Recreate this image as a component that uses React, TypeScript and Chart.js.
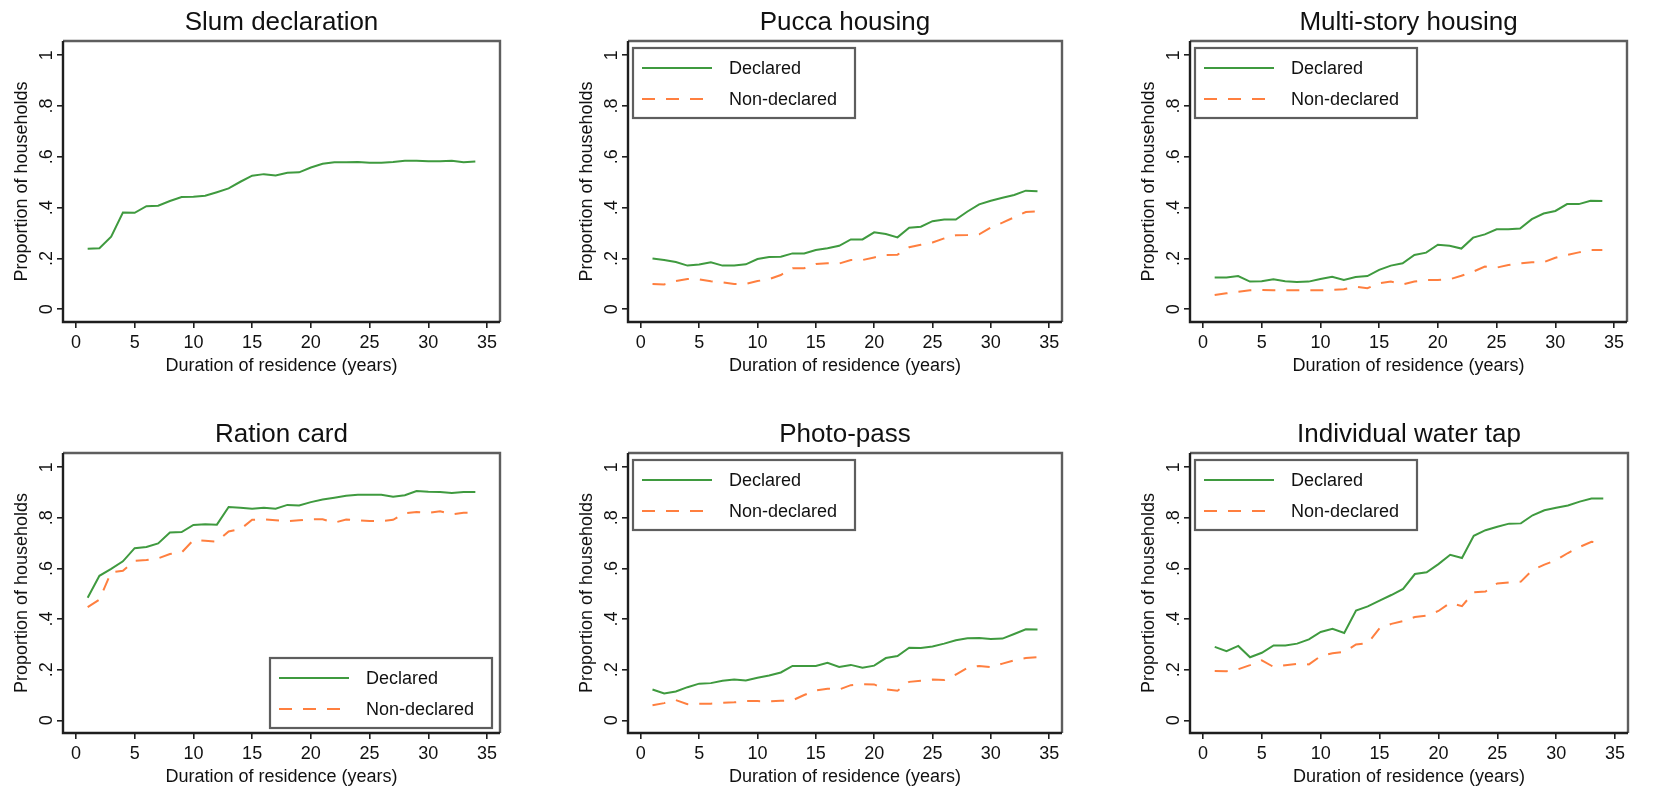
import React, { useEffect, useRef } from "react";
import { Chart, registerables } from "chart.js";

Chart.register(...registerables);

// ---------- DATA ----------
const years = [1, 2, 3, 4, 5, 6, 7, 8, 9, 10, 11, 12, 13, 14, 15, 16, 17, 18, 19, 20, 21, 22, 23, 24, 25, 26, 27, 28, 29, 30, 31, 32, 33, 34];

const xTickValues = [0, 5, 10, 15, 20, 25, 30, 35];
const yTickValues = [0, 0.2, 0.4, 0.6, 0.8, 1];
const yTickLabels = ["0", ".2", ".4", ".6", ".8", "1"];

const slumDeclared = [0.238, 0.24, 0.286, 0.381, 0.38, 0.406, 0.408, 0.426, 0.442, 0.443, 0.447, 0.461, 0.476, 0.502, 0.526, 0.532, 0.527, 0.537, 0.539, 0.558, 0.573, 0.579, 0.579, 0.58, 0.577, 0.577, 0.58, 0.585, 0.585, 0.583, 0.583, 0.585, 0.579, 0.582];

const puccaDeclared = [0.2, 0.194, 0.186, 0.172, 0.176, 0.185, 0.172, 0.172, 0.177, 0.198, 0.206, 0.207, 0.22, 0.22, 0.233, 0.24, 0.25, 0.275, 0.275, 0.303, 0.296, 0.283, 0.321, 0.325, 0.347, 0.353, 0.353, 0.385, 0.413, 0.427, 0.439, 0.45, 0.467, 0.465];
const puccaNonDeclared = [0.1, 0.098, 0.111, 0.119, 0.118, 0.11, 0.106, 0.1, 0.1, 0.111, 0.119, 0.135, 0.162, 0.162, 0.178, 0.181, 0.18, 0.194, 0.194, 0.204, 0.214, 0.215, 0.244, 0.254, 0.263, 0.279, 0.291, 0.292, 0.295, 0.322, 0.341, 0.362, 0.383, 0.385];

const multiDeclared = [0.125, 0.125, 0.131, 0.109, 0.11, 0.118, 0.11, 0.107, 0.109, 0.119, 0.128, 0.115, 0.127, 0.131, 0.155, 0.172, 0.181, 0.214, 0.223, 0.254, 0.25, 0.239, 0.282, 0.295, 0.315, 0.315, 0.318, 0.355, 0.377, 0.387, 0.414, 0.414, 0.427, 0.426];
const multiNonDeclared = [0.056, 0.063, 0.069, 0.075, 0.076, 0.075, 0.075, 0.075, 0.075, 0.075, 0.076, 0.079, 0.089, 0.083, 0.102, 0.109, 0.098, 0.109, 0.115, 0.115, 0.118, 0.132, 0.148, 0.168, 0.164, 0.174, 0.181, 0.185, 0.185, 0.203, 0.214, 0.224, 0.233, 0.233];

const rationDeclared = [0.484, 0.571, 0.598, 0.628, 0.68, 0.685, 0.699, 0.742, 0.744, 0.772, 0.775, 0.773, 0.843, 0.84, 0.836, 0.84, 0.836, 0.851, 0.849, 0.862, 0.872, 0.879, 0.887, 0.891, 0.891, 0.891, 0.883, 0.889, 0.906, 0.903, 0.902, 0.898, 0.902, 0.902];
const rationNonDeclared = [0.447, 0.477, 0.585, 0.591, 0.63, 0.633, 0.64, 0.657, 0.663, 0.712, 0.709, 0.706, 0.746, 0.755, 0.792, 0.794, 0.79, 0.787, 0.79, 0.794, 0.794, 0.781, 0.793, 0.79, 0.787, 0.787, 0.792, 0.818, 0.823, 0.82, 0.826, 0.814, 0.82, 0.82];

const photoDeclared = [0.122, 0.106, 0.114, 0.131, 0.145, 0.147, 0.156, 0.161, 0.157, 0.168, 0.177, 0.189, 0.215, 0.215, 0.215, 0.227, 0.211, 0.219, 0.208, 0.216, 0.246, 0.254, 0.287, 0.286, 0.292, 0.303, 0.316, 0.324, 0.325, 0.321, 0.323, 0.341, 0.36, 0.359];
const photoNonDeclared = [0.06, 0.068, 0.08, 0.064, 0.066, 0.066, 0.069, 0.071, 0.076, 0.076, 0.075, 0.077, 0.079, 0.1, 0.118, 0.125, 0.122, 0.139, 0.143, 0.142, 0.122, 0.117, 0.152, 0.156, 0.161, 0.159, 0.181, 0.207, 0.215, 0.21, 0.224, 0.237, 0.246, 0.249];

const tapDeclared = [0.29, 0.273, 0.294, 0.249, 0.267, 0.296, 0.296, 0.303, 0.32, 0.349, 0.362, 0.345, 0.434, 0.45, 0.473, 0.495, 0.519, 0.578, 0.585, 0.617, 0.654, 0.641, 0.729, 0.751, 0.765, 0.777, 0.778, 0.81, 0.83, 0.84, 0.849, 0.864, 0.876, 0.876];
const tapNonDeclared = [0.195, 0.194, 0.202, 0.218, 0.237, 0.211, 0.218, 0.223, 0.221, 0.254, 0.265, 0.27, 0.3, 0.305, 0.364, 0.381, 0.392, 0.408, 0.414, 0.432, 0.464, 0.451, 0.506, 0.509, 0.541, 0.545, 0.548, 0.594, 0.615, 0.633, 0.661, 0.685, 0.705, 0.699];

const seriesNames = ["Declared", "Non-declared"];
const xAxisTitle = "Duration of residence (years)";
const yAxisTitle = "Proportion of households";

// ---------- STYLE ----------
const FONT = '"Liberation Sans", Arial, Helvetica, sans-serif';
const GREEN = "#3f9a3f";
const ORANGE = "#ff7f3f";
const TEXT = "#111111";

type Panel = {
  title: string;
  declared: number[];
  nonDeclared?: number[];
  legend: "none" | "topleft" | "bottomright";
  L: number;
  T: number;
  R: number;
  B: number;
};

const panels: Panel[] = [
  { title: "Slum declaration", declared: slumDeclared, legend: "none", L: 63, T: 41, R: 500, B: 322 },
  { title: "Pucca housing", declared: puccaDeclared, nonDeclared: puccaNonDeclared, legend: "topleft", L: 628, T: 41, R: 1062, B: 322 },
  { title: "Multi-story housing", declared: multiDeclared, nonDeclared: multiNonDeclared, legend: "topleft", L: 1190, T: 41, R: 1627, B: 322 },
  { title: "Ration card", declared: rationDeclared, nonDeclared: rationNonDeclared, legend: "bottomright", L: 63, T: 453, R: 500, B: 733 },
  { title: "Photo-pass", declared: photoDeclared, nonDeclared: photoNonDeclared, legend: "topleft", L: 628, T: 453, R: 1062, B: 733 },
  { title: "Individual water tap", declared: tapDeclared, nonDeclared: tapNonDeclared, legend: "topleft", L: 1190, T: 453, R: 1628, B: 733 },
];

const PAD_L = 11;
const Y_W = 52;
const PAD_T = 7.4;
const TITLE_H = 31.2 + 2.4;
const X_H = 55;
const PAD_R = 10;
const PAD_B = 5;

const framePlugin = {
  id: "stataFrame",
  afterDraw(chart: any) {
    const { ctx, chartArea: a } = chart;
    ctx.save();
    ctx.lineWidth = 2.4;
    ctx.strokeStyle = "#5e5e5e";
    ctx.beginPath();
    ctx.moveTo(a.left, a.top);
    ctx.lineTo(a.right, a.top);
    ctx.lineTo(a.right, a.bottom);
    ctx.stroke();
    ctx.strokeStyle = "#1e1e1e";
    ctx.beginPath();
    ctx.moveTo(a.left, a.top);
    ctx.lineTo(a.left, a.bottom);
    ctx.lineTo(a.right, a.bottom);
    ctx.stroke();

    // rotated y tick labels
    const ys = chart.scales.y;
    ctx.font = `18px ${FONT}`;
    ctx.fillStyle = TEXT;
    ctx.textAlign = "center";
    ctx.textBaseline = "middle";
    ys.ticks.forEach((t: any, i: number) => {
      const py = ys.getPixelForValue(t.value);
      ctx.save();
      ctx.translate(a.left - 16, py);
      ctx.rotate(-Math.PI / 2);
      ctx.fillText(yTickLabels[i], 0, 0);
      ctx.restore();
    });

    // legend
    const pos = chart.options.plugins.stataFrame?.legend;
    const sets = chart.data.datasets;
    if (pos && pos !== "none" && sets.length > 1) {
      const w = 222;
      const h = 70;
      let bx = a.left + 5;
      let by = a.top + 7;
      if (pos === "bottomright") {
        bx = a.right - 8 - w;
        by = a.bottom - 5 - h;
      }
      ctx.fillStyle = "#ffffff";
      ctx.fillRect(bx, by, w, h);
      ctx.lineWidth = 2.2;
      ctx.strokeStyle = "#5e5e5e";
      ctx.strokeRect(bx, by, w, h);
      const rows = [by + 20, by + 51];
      sets.forEach((ds: any, i: number) => {
        ctx.save();
        ctx.strokeStyle = ds.borderColor;
        ctx.lineWidth = ds.borderWidth;
        ctx.setLineDash(ds.borderDash || []);
        ctx.beginPath();
        ctx.moveTo(bx + 9, rows[i]);
        ctx.lineTo(bx + 79, rows[i]);
        ctx.stroke();
        ctx.restore();
        ctx.fillStyle = TEXT;
        ctx.textAlign = "left";
        ctx.textBaseline = "middle";
        ctx.font = `18px ${FONT}`;
        ctx.fillText(ds.label, bx + 96, rows[i] + 1);
      });
    }
    ctx.restore();
  },
};

function PanelChart({ p }: { p: Panel }) {
  const ref = useRef<HTMLCanvasElement | null>(null);
  const width = PAD_L + Y_W + (p.R - p.L) + PAD_R;
  const height = PAD_T + TITLE_H + (p.B - p.T) + X_H + PAD_B;
  const left = p.L - PAD_L - Y_W;
  const top = p.T - PAD_T - TITLE_H;

  useEffect(() => {
    if (!ref.current) return;
    const datasets: any[] = [
      {
        label: seriesNames[0],
        data: p.declared,
        borderColor: GREEN,
        borderWidth: 2,
        pointRadius: 0,
        tension: 0,
        fill: false,
      },
    ];
    if (p.nonDeclared) {
      datasets.push({
        label: seriesNames[1],
        data: p.nonDeclared,
        borderColor: ORANGE,
        borderWidth: 2,
        borderDash: [13, 11],
        pointRadius: 0,
        tension: 0,
        fill: false,
      });
    }
    const chart = new Chart(ref.current, {
      type: "line",
      data: {
        labels: years,
        datasets: datasets.map((d) => ({ ...d, data: d.data.map((v: number, i: number) => ({ x: years[i], y: v })) })),
      },
      plugins: [framePlugin],
      options: {
        animation: false,
        responsive: false,
        devicePixelRatio: 1,
        layout: { padding: { left: PAD_L, right: PAD_R, top: PAD_T, bottom: PAD_B } },
        plugins: {
          legend: { display: false },
          tooltip: { enabled: false },
          title: {
            display: true,
            text: p.title,
            fullSize: false,
            color: TEXT,
            font: { family: FONT, size: 26, weight: "normal" },
            padding: { top: 0, bottom: 2.4 },
          },
          // @ts-ignore
          stataFrame: { legend: p.legend },
        },
        scales: {
          x: {
            type: "linear",
            min: -1.1,
            max: 36.1,
            afterBuildTicks: (s: any) => {
              s.ticks = xTickValues.map((v) => ({ value: v }));
            },
            afterFit: (s: any) => {
              s.height = X_H;
            },
            border: { display: false },
            grid: { drawOnChartArea: false, drawTicks: true, tickLength: 6, color: "#1e1e1e", lineWidth: 1.6 },
            ticks: {
              color: TEXT,
              font: { family: FONT, size: 18 },
              padding: 4,
              maxRotation: 0,
              callback: (v: any) => String(v),
            },
            title: { display: true, text: xAxisTitle, color: TEXT, font: { family: FONT, size: 18 }, padding: 0 },
          },
          y: {
            type: "linear",
            min: -0.05,
            max: 1.056,
            afterBuildTicks: (s: any) => {
              s.ticks = yTickValues.map((v) => ({ value: v }));
            },
            afterFit: (s: any) => {
              s.width = Y_W;
            },
            border: { display: false },
            grid: { drawOnChartArea: false, drawTicks: true, tickLength: 6, color: "#1e1e1e", lineWidth: 1.6 },
            ticks: { display: false },
            title: { display: true, text: yAxisTitle, color: TEXT, font: { family: FONT, size: 18 }, padding: 0 },
          },
        },
      } as any,
    });
    return () => chart.destroy();
  }, [p]);

  return (
    <canvas
      ref={ref}
      width={width}
      height={height}
      style={{ position: "absolute", left, top, width, height }}
    />
  );
}

export default function App() {
  return (
    <div style={{ position: "absolute", left: 0, top: 0, width: 1667, height: 791, background: "#ffffff", overflow: "hidden" }}>
      {panels.map((p) => (
        <PanelChart key={p.title} p={p} />
      ))}
    </div>
  );
}
